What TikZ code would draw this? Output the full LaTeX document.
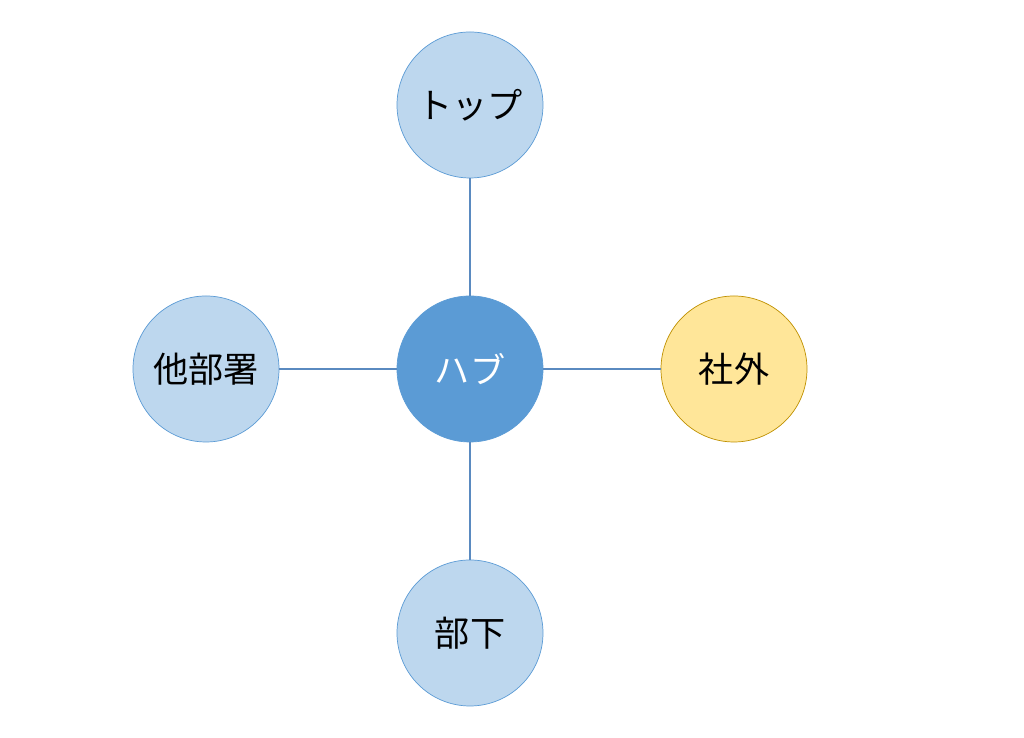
\documentclass[tikz,border=0pt]{standalone}
\usepackage{fontspec}
\newfontfamily\cjk{Noto Sans CJK JP}
\usetikzlibrary{positioning}
\definecolor{lblue}{HTML}{BDD7EE}
\definecolor{mblue}{HTML}{5B9BD5}
\definecolor{lyel}{HTML}{FFE699}
\definecolor{dyel}{HTML}{BF9000}
\definecolor{edge}{HTML}{5A8AC0}
\tikzset{
  party/.style={circle, draw=mblue, fill=lblue, minimum size=2.92cm, inner sep=0pt, font=\cjk\fontsize{20}{24}\selectfont},
  link/.style={draw=edge, line width=0.6pt}
}
\begin{document}
\begin{tikzpicture}
      \useasboundingbox (0,0) rectangle (20.48,14.76);
      \node[party, fill=mblue, text=white] at (9.4,7.38) (hub) {ハブ};
      \node[party] at (9.4,12.66) (top) {トップ};
      \node[party] at (4.12,7.38) (other) {他部署};
      \node[party, draw=dyel, fill=lyel] at (14.68,7.38) (outside) {社外};
      \node[party] at (9.4,2.1) (sub) {部下};
      \draw[link] (hub) -- (top);
      \draw[link] (hub) -- (other);
      \draw[link] (hub) -- (outside);
      \draw[link] (hub) -- (sub);
\end{tikzpicture}
\end{document}
